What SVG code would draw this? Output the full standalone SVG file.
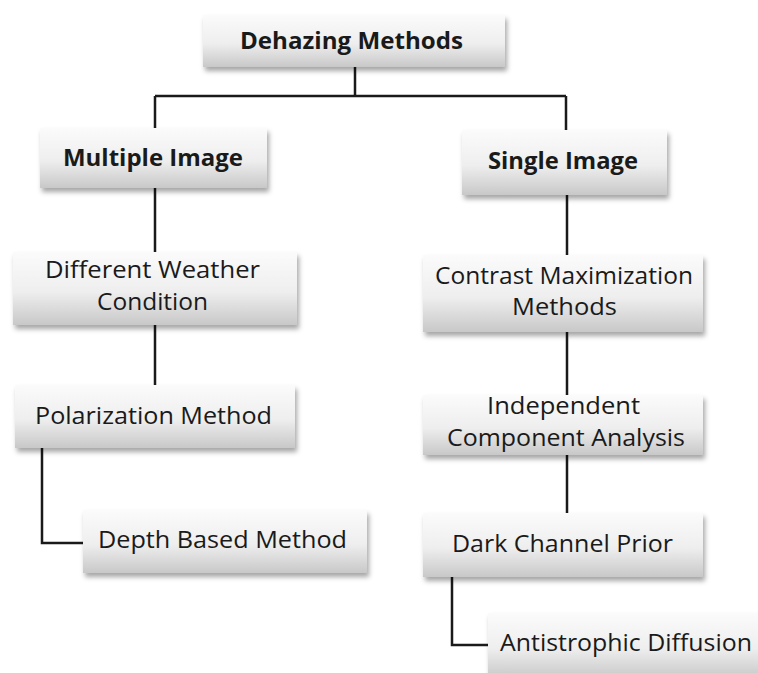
<svg xmlns="http://www.w3.org/2000/svg" width="758" height="673" viewBox="0 0 758 673">
<defs>
<linearGradient id="g" x1="0" y1="0" x2="0" y2="1">
<stop offset="0" stop-color="#fbfbfb"/>
<stop offset="0.55" stop-color="#eeeeee"/>
<stop offset="1" stop-color="#c8c8c8"/>
</linearGradient>
<filter id="sh" x="-10%" y="-20%" width="125%" height="150%">
<feDropShadow dx="2" dy="4" stdDeviation="2.5" flood-color="#000" flood-opacity="0.35"/>
</filter>
</defs>
<style>
.box{fill:url(#g);filter:url(#sh);}
.t{font-family:"Open Sans","Noto Sans",sans-serif;font-size:23px;fill:#1a1a1a;text-anchor:start;}
.b{font-weight:bold;}
.c{fill:none;stroke:#1a1a1a;stroke-width:2.5;}
</style>
<rect width="758" height="673" fill="#ffffff"/>
<g id="connectors">
<path class="c" d="M355 67 V96 M155 96 H566 M155 96 V128 M566 96 V130"/>
<path class="c" d="M155 188 V252 M155 325 V385"/>
<path class="c" d="M42 448 V543 H83"/>
<path class="c" d="M567 195 V255 M567 332 V395 M567 455 V513"/>
<path class="c" d="M452 577 V645 H488"/>
</g>
<g id="n-dehazing">
<rect class="box" x="203" y="15" width="302" height="52"/>
<text class="t b" x="240" y="49" textLength="223" lengthAdjust="spacingAndGlyphs">Dehazing Methods</text>
</g>
<g id="n-multiple">
<rect class="box" x="40" y="128" width="227" height="60"/>
<text class="t b" x="63" y="166" textLength="180" lengthAdjust="spacingAndGlyphs">Multiple Image</text>
</g>
<g id="n-single">
<rect class="box" x="462" y="130" width="205" height="65"/>
<text class="t b" x="488" y="169" textLength="150" lengthAdjust="spacingAndGlyphs">Single Image</text>
</g>
<g id="n-weather">
<rect class="box" x="13" y="252" width="284" height="73"/>
<text class="t" x="45" y="278" textLength="215" lengthAdjust="spacingAndGlyphs">Different Weather</text>
<text class="t" x="97" y="310" textLength="111" lengthAdjust="spacingAndGlyphs">Condition</text>
</g>
<g id="n-contrast">
<rect class="box" x="423" y="255" width="280" height="77"/>
<text class="t" x="435" y="284" textLength="258" lengthAdjust="spacingAndGlyphs">Contrast Maximization</text>
<text class="t" x="512" y="315" textLength="105" lengthAdjust="spacingAndGlyphs">Methods</text>
</g>
<g id="n-polarization">
<rect class="box" x="15" y="385" width="280" height="63"/>
<text class="t" x="35" y="424" textLength="237" lengthAdjust="spacingAndGlyphs">Polarization Method</text>
</g>
<g id="n-ica">
<rect class="box" x="423" y="395" width="280" height="60"/>
<text class="t" x="487" y="414" textLength="153" lengthAdjust="spacingAndGlyphs">Independent</text>
<text class="t" x="447" y="446" textLength="238" lengthAdjust="spacingAndGlyphs">Component Analysis</text>
</g>
<g id="n-depth">
<rect class="box" x="83" y="510" width="284" height="63"/>
<text class="t" x="98" y="548" textLength="249" lengthAdjust="spacingAndGlyphs">Depth Based Method</text>
</g>
<g id="n-dark">
<rect class="box" x="423" y="513" width="280" height="64"/>
<text class="t" x="452" y="552" textLength="221" lengthAdjust="spacingAndGlyphs">Dark Channel Prior</text>
</g>
<g id="n-anti">
<rect class="box" x="488" y="613" width="275" height="65"/>
<text class="t" x="500" y="651" textLength="252" lengthAdjust="spacingAndGlyphs">Antistrophic Diffusion</text>
</g>
</svg>
